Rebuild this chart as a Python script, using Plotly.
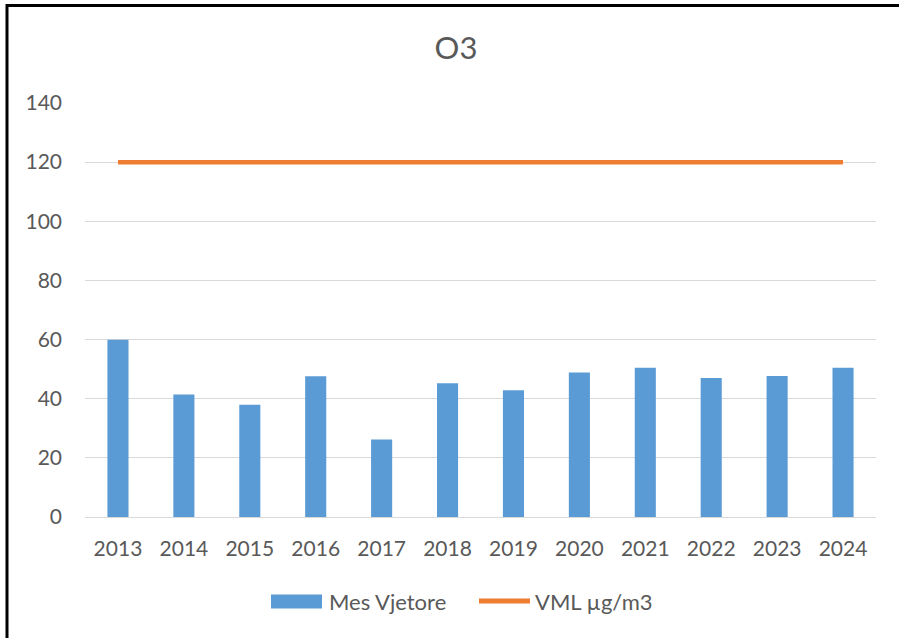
import plotly.graph_objects as go

years = ["2013", "2014", "2015", "2016", "2017", "2018", "2019", "2020", "2021", "2022", "2023", "2024"]
mes_vjetore = [59.9, 41.4, 38.0, 47.6, 26.2, 45.2, 42.9, 48.9, 50.5, 47.0, 47.7, 50.5]
vml = [120] * 12
series_names = ["Mes Vjetore", "VML µg/m3"]

FONT = "Lato, 'Open Sans', sans-serif"
TXT = "#595959"
BLUE = "#5B9BD5"
ORANGE = "#ED7D31"

fig = go.Figure()
fig.add_trace(go.Bar(x=years, y=mes_vjetore, name=series_names[0],
                     marker=dict(color=BLUE, line=dict(width=0)), showlegend=False))
fig.add_trace(go.Scatter(x=years, y=vml, name=series_names[1], mode="lines",
                         line=dict(color=ORANGE, width=4.5), showlegend=False))

L, R, T, B = 85, 23, 103, 120.5
W, H = 899, 638
pw, ph = W - L - R, H - T - B

def px(x):
    return (x - L) / pw

def py(y):
    return (H - B - y) / ph

shapes = [
    # outer frame
    dict(type="rect", xref="paper", yref="paper",
         x0=px(7), x1=px(910), y0=py(650), y1=py(5.5),
         line=dict(color="black", width=3), fillcolor="rgba(0,0,0,0)", layer="above"),
    # legend swatches
    dict(type="rect", xref="paper", yref="paper",
         x0=px(271), x1=px(322), y0=py(609), y1=py(595),
         line=dict(width=0), fillcolor=BLUE),
    dict(type="line", xref="paper", yref="paper",
         x0=px(479), x1=px(530), y0=py(601.7), y1=py(601.7),
         line=dict(color=ORANGE, width=5)),
]
annotations = [
    dict(text=series_names[0], xref="paper", yref="paper", x=px(327), y=py(602),
         xanchor="left", yanchor="middle", showarrow=False,
         font=dict(size=22, color=TXT, family=FONT)),
    dict(text=series_names[1], xref="paper", yref="paper", x=px(533), y=py(602),
         xanchor="left", yanchor="middle", showarrow=False,
         font=dict(size=22, color=TXT, family=FONT)),
]

fig.update_layout(
    width=W, height=H,
    margin=dict(l=L, r=R, t=T, b=B, pad=0),
    paper_bgcolor="white", plot_bgcolor="white",
    font=dict(family=FONT, color=TXT, size=21),
    bargap=0.68,
    title=dict(text="O3", x=px(456), xref="paper", xanchor="center",
               y=1 - 48 / H, yanchor="middle",
               font=dict(size=31, color=TXT, family=FONT)),
    xaxis=dict(showgrid=False, showline=True, linecolor="#D9D9D9", linewidth=1,
               ticks="", tickfont=dict(size=21, color=TXT), ticklabelstandoff=13),
    yaxis=dict(range=[0, 140], dtick=20, showgrid=True, gridcolor="#D9D9D9",
               gridwidth=1, zeroline=False, showline=False, ticks="",
               tickfont=dict(size=21, color=TXT), ticklabelstandoff=22),
    showlegend=False,
    shapes=shapes,
    annotations=annotations,
)

fig.write_html("out.html", config={"displayModeBar": False},
               post_script="document.body.style.margin='0';document.body.style.overflow='hidden';")
